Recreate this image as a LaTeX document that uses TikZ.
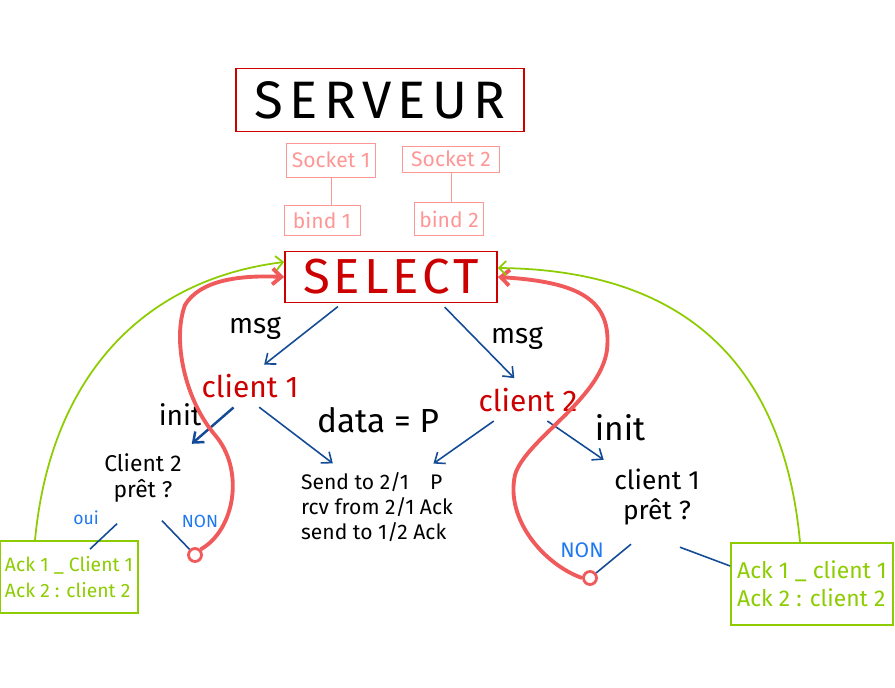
\documentclass[tikz,border=0pt]{standalone}
\usepackage{fontspec}
\setmainfont{Fira Sans}
\usetikzlibrary{arrows.meta}
\definecolor{boxred}{RGB}{204,0,0}
\definecolor{sockpink}{RGB}{255,150,150}
\definecolor{looped}{RGB}{240,90,90}
\definecolor{ackgreen}{RGB}{140,204,0}
\definecolor{flowblue}{RGB}{20,75,150}
\definecolor{answblue}{RGB}{30,120,240}
\begin{document}
\begin{tikzpicture}[x=0.02cm,y=-0.02cm,
	redbox/.style={draw=boxred,line width=1pt,inner sep=0pt},
	sockbox/.style={draw=sockpink,text=sockpink,inner sep=0pt,font=\fontsize{12}{14}\selectfont},
	clientname/.style={text=boxred,font=\fontsize{17}{20}\selectfont},
	note/.style={font=\fontsize{16}{18}\selectfont},
	answer/.style={text=answblue,font=\fontsize{10}{12}\selectfont},
	flow/.style={-{Straight Barb[length=5pt,width=8pt]},draw=flowblue,line width=0.9pt,shorten <=3pt,shorten >=3pt},
	tie/.style={draw=flowblue,line width=0.9pt},
	loopback/.style={-{Straight Barb[length=5pt,width=9pt]},draw=looped,line width=2.2pt},
	ackback/.style={-{Straight Barb[length=4pt,width=8pt]},draw=ackgreen,line width=1pt},
	ackbox/.style={draw=ackgreen,text=ackgreen,line width=1pt,align=left,inner sep=0pt}]
	\useasboundingbox (0,0) rectangle (895,688);
	\node[redbox,minimum width=5.76cm,minimum height=1.26cm,font=\fontsize{30}{36}\selectfont\addfontfeature{LetterSpace=12}] (serveur) at (380,100) {SERVEUR};
	\node[sockbox,minimum width=1.78cm,minimum height=0.68cm] (sock1) at (331,160) {Socket 1};
	\node[sockbox,minimum width=1.94cm,minimum height=0.52cm] (sock2) at (451,159) {Socket 2};
	\node[sockbox,minimum width=1.52cm,minimum height=0.6cm] (bind1) at (322,220) {bind 1};
	\node[sockbox,minimum width=1.38cm,minimum height=0.66cm] (bind2) at (449,219) {bind 2};
	\draw[sockpink] (sock1.south) -- (sock1.south |- bind1.north);
	\draw[sockpink] (sock2.south) -- (sock2.south |- bind2.north);
	\node[redbox,text=boxred,minimum width=4.24cm,minimum height=1.02cm,font=\fontsize{28}{34}\selectfont\addfontfeature{LetterSpace=8}] (select) at (391,277) {SELECT};
	\node[clientname] (client1) at (250,386) {client 1};
	\node[clientname] (client2) at (528,400) {client 2};
	\node[note] (msg1) at (255,328) {msg};
	\node[note] (msg2) at (517,338) {msg};
	\draw[flow] ([xshift=-0.98cm]select.south) -- ([xshift=0.2cm]client1.north);
	\draw[flow] ([xshift=1cm]select.south) -- ([xshift=-0.2cm]client2.north);
	\node[note] (init1) at (180,415) {init};
	\node[note,font=\fontsize{19}{22}\selectfont] (init2) at (620,428) {init};
	\node[note,font=\fontsize{19}{22}\selectfont] (data) at (378,420) {data = P};
	\node[align=center,font=\fontsize{13}{15}\selectfont] (pret2) at (143,478) {Client 2\\prêt ?};
	\node[align=center,font=\fontsize{15}{17}\selectfont] (pret1) at (657,497) {client 1\\prêt ?};
	\node[align=left,font=\fontsize{12}{14}\selectfont] (send) at (377,507) {Send to 2/1\quad P\\rcv from 2/1 Ack\\send to 1/2 Ack};
	\draw[flow,line width=1.4pt] ([xshift=-0.25cm]client1.south) -- (pret2.north east);
	\draw[flow] ([xshift=0.1cm]client1.south) -- ([xshift=-0.8cm]send.north);
	\draw[flow] ([xshift=-0.6cm]client2.south) -- ([xshift=-0.6cm]send.north east);
	\draw[flow] ([xshift=0.3cm]client2.south) -- (pret1.north west);
	\node[answer] (oui) at (86,518) {oui};
	\node[answer] (non1) at (200,521) {NON};
	\node[answer,font=\fontsize{12}{14}\selectfont] (non2) at (582,550) {NON};
	\node[draw=looped,line width=1.6pt,circle,minimum size=0.26cm,inner sep=0pt] (hole1) at (195,555) {};
	\node[draw=looped,line width=1.6pt,circle,minimum size=0.26cm,inner sep=0pt] (hole2) at (590,578) {};
	\node[ackbox,minimum width=2.76cm,minimum height=1.44cm,font=\fontsize{11}{15}\selectfont] (ackL) at (69,577) {Ack 1 \_ Client 1\\Ack 2 : client 2};
	\node[ackbox,minimum width=3.24cm,minimum height=1.64cm,font=\fontsize{13}{16}\selectfont] (ackR) at (812,584) {Ack 1 \_ client 1\\Ack 2 : client 2};
	\draw[tie] ([shift={(-0.52cm,-0.3cm)}]pret2.south) -- ([xshift=0.42cm,yshift=-0.18cm]ackL.north);
	\draw[tie] ([shift={(0.38cm,-0.24cm)}]pret2.south) -- (hole1);
	\draw[tie] ([shift={(-0.52cm,-0.26cm)}]pret1.south) -- (hole2);
	\draw[tie] ([shift={(0.46cm,-0.32cm)}]pret1.south) -- ([yshift=0.36cm]ackR.west);
	\draw[loopback] (hole1.north east) .. controls (235,530) and (245,470) .. (215,435) .. controls (185,400) and (172,340) .. (185,305) .. controls (200,280) and (240,275) .. (select.west);
	\draw[loopback] (hole2.west) .. controls (545,565) and (505,520) .. (515,475) .. controls (525,440) and (600,400) .. (607,350) .. controls (612,300) and (580,282) .. (select.east);
	\draw[ackback] ([xshift=-0.68cm]ackL.north) .. controls (50,380) and (140,280) .. ([yshift=0.3cm]select.west);
	\draw[ackback] ([xshift=-0.24cm]ackR.north) .. controls (785,380) and (700,270) .. ([yshift=0.18cm]select.east);
\end{tikzpicture}
\end{document}
